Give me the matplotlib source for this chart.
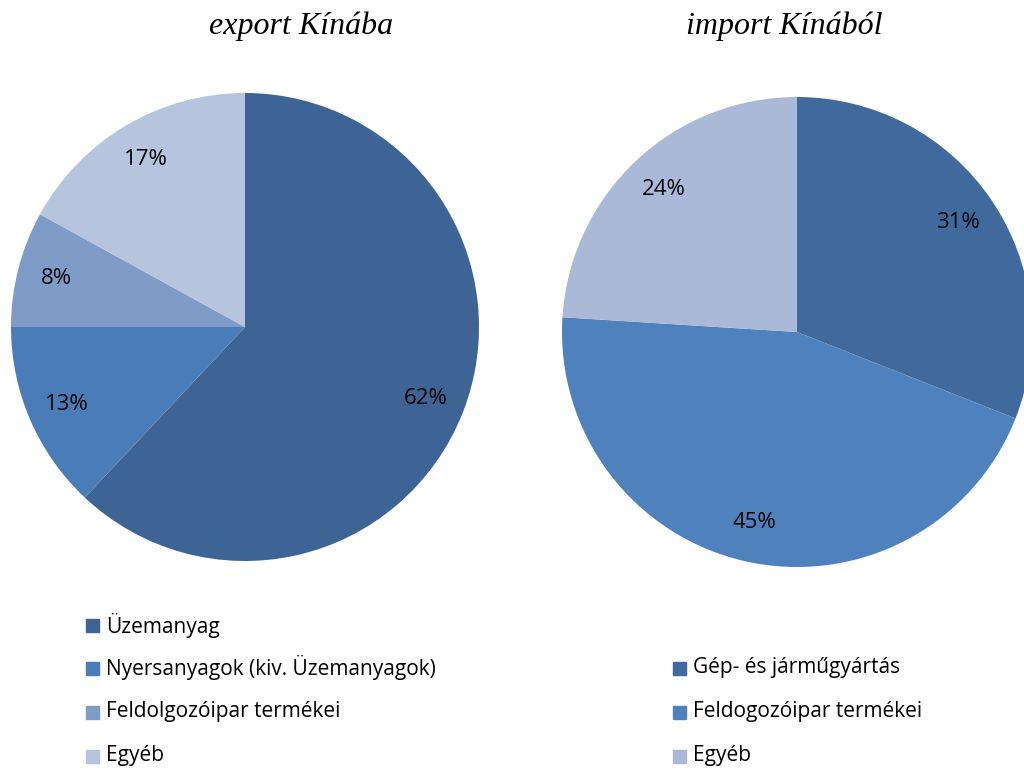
import matplotlib.pyplot as plt

# data
exp_labels = ['Üzemanyag', 'Nyersanyagok (kiv. Üzemanyagok)', 'Feldolgozóipar termékei', 'Egyéb']
exp_values = [62, 13, 8, 17]
exp_colors = ['#3e6496', '#4a7cb7', '#7f9cc9', '#b7c4de']

imp_labels = ['Gép- és járműgyártás', 'Feldogozóipar termékei', 'Egyéb']
imp_values = [31, 45, 24]
imp_colors = ['#406a9e', '#4f81bd', '#aab9d8']

W, H = 1024, 769
fig = plt.figure(figsize=(W / 100, H / 100), dpi=100)

lab_font = 'Open Sans'
title_font = 'Liberation Serif'


def pie_axes(cx, cy, r):
    return fig.add_axes([(cx - r) / W, 1 - (cy + r) / H, 2 * r / W, 2 * r / H])


def draw(ax, values, colors):
    wedges, texts, autotexts = ax.pie(values, colors=colors, startangle=90, counterclock=False,
                                      autopct='%.0f%%', pctdistance=0.83, radius=1,
                                      wedgeprops=dict(linewidth=0),
                                      textprops=dict(fontsize=16, family=lab_font, color='#000000'))
    ax.set_xlim(-1, 1)
    ax.set_ylim(-1, 1)
    ax.set_aspect('equal')
    ax.axis('off')
    return wedges


ax1 = pie_axes(245, 327, 234)
draw(ax1, exp_values, exp_colors)
ax2 = pie_axes(797, 332, 235)
draw(ax2, imp_values, imp_colors)

fig.text(301 / W, 1 - 26 / H, 'export Kínába', ha='center', va='center',
         family=title_font, style='italic', fontsize=23)
fig.text(784 / W, 1 - 26 / H, 'import Kínából', ha='center', va='center',
         family=title_font, style='italic', fontsize=23)

# legends
row_y = [625, 668, 712, 756]
for i, (lab, col) in enumerate(zip(exp_labels, exp_colors)):
    y = 1 - row_y[i] / H
    fig.patches.append(plt.Rectangle((86 / W, y - 6.5 / H), 13 / W, 13 / H, color=col,
                                     transform=fig.transFigure))
    fig.text(106 / W, y, lab, va='center', ha='left', family=lab_font, fontsize=15)

for i, (lab, col) in enumerate(zip(imp_labels, imp_colors)):
    y = 1 - row_y[i + 1] / H
    fig.patches.append(plt.Rectangle((673 / W, y - 6.5 / H), 13 / W, 13 / H, color=col,
                                     transform=fig.transFigure))
    fig.text(693 / W, y, lab, va='center', ha='left', family=lab_font, fontsize=15)

fig.savefig('out.png', dpi=100)
